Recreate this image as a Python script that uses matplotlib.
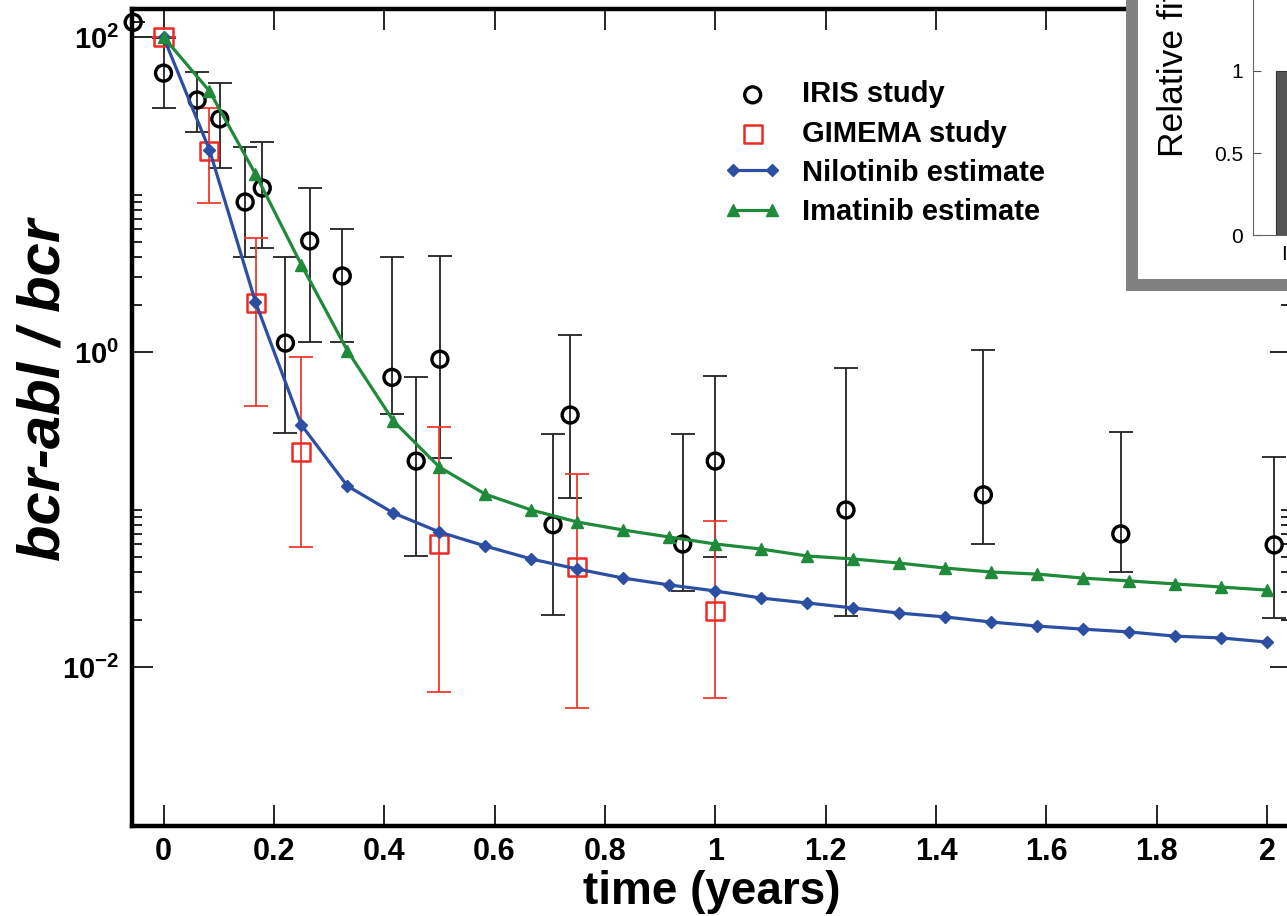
import numpy as np
import matplotlib
matplotlib.use("Agg")
import matplotlib.pyplot as plt
from matplotlib.patches import Rectangle
from matplotlib.ticker import FixedLocator, NullFormatter

plt.rcParams['font.family'] = ['Liberation Sans', 'DejaVu Sans']
plt.rcParams['mathtext.fontset'] = 'custom'
plt.rcParams['mathtext.rm'] = 'Liberation Sans'
plt.rcParams['mathtext.bf'] = 'Liberation Sans:bold'
plt.rcParams['mathtext.it'] = 'Liberation Sans:italic'

# --- IRIS study (black circles) ---
iris_t = [-0.055, 0.0, 0.061, 0.102, 0.148, 0.179, 0.221, 0.265, 0.324, 0.414,
          0.458, 0.501, 0.706, 0.737, 0.941, 1.0, 1.237, 1.486, 1.735, 2.013]
iris_val = [124, 59, 39.8, 30.2, 8.96, 11.0, 1.14, 5.07, 3.04, 0.69,
            0.203, 0.90, 0.080, 0.398, 0.0604, 0.203, 0.0993, 0.124, 0.070, 0.0596]
iris_lo = [124, 35.4, 25.0, 14.7, 4.0, 4.6, 0.306, 1.156, 1.156, 0.404,
           0.0507, 0.212, 0.0214, 0.118, 0.0304, 0.0499, 0.0211, 0.0604, 0.0401, 0.0205]
iris_hi = [124, 98, 60, 51, 20, 21.5, 4.0, 11.0, 6.04, 4.0,
           0.693, 4.07, 0.301, 1.28, 0.301, 0.705, 0.791, 1.03, 0.310, 0.215]

# --- GIMEMA study (red squares) ---
gim_t = [0.0, 0.083, 0.167, 0.25, 0.5, 0.75, 1.0]
gim_val = [100, 18.9, 2.05, 0.232, 0.060, 0.0431, 0.0227]
gim_lo = [100, 8.83, 0.454, 0.0578, 0.00693, 0.0055, 0.00635]
gim_hi = [100, 35.4, 5.30, 0.929, 0.334, 0.168, 0.0845]

# --- model estimates, one point per month ---
months = np.arange(25)
nilotinib = [100, 19.2, 2.08, 0.344, 0.141, 0.095, 0.072, 0.0586, 0.0485, 0.0419,
             0.0367, 0.0332, 0.0304, 0.0274, 0.0255, 0.0237, 0.0220, 0.0208, 0.0193,
             0.0182, 0.0174, 0.0167, 0.0157, 0.0153, 0.0144]
imatinib = [100, 45.4, 13.5, 3.57, 1.02, 0.365, 0.186, 0.125, 0.0993, 0.0833,
            0.0741, 0.0669, 0.0604, 0.0561, 0.0507, 0.0485, 0.0457, 0.0425, 0.0401,
            0.0389, 0.0367, 0.0352, 0.0337, 0.0322, 0.0308]

xtick_vals = [0, 0.2, 0.4, 0.6, 0.8, 1.0, 1.2, 1.4, 1.6, 1.8, 2.0]
xtick_labels = ['0', '0.2', '0.4', '0.6', '0.8', '1', '1.2', '1.4', '1.6', '1.8', '2']
ytick_vals = [1e-2, 1e0, 1e2]
ytick_labels = [r'$\mathbf{10^{-2}}$', r'$\mathbf{10^{0}}$', r'$\mathbf{10^{2}}$']

# inset (cropped in the original)
inset_labels = ['Imatinib']
inset_vals = [1.0]

W, H = 1287, 916
fig = plt.figure(figsize=(W / 100, H / 100), dpi=100)
ax = fig.add_axes([132 / W, 90 / H, 1159 / W, 817 / H])

blue = '#2c4fa3'
green = '#1f8a3a'
red = '#ee2a24'

iris_t = np.array(iris_t); iris_val = np.array(iris_val)
gim_t = np.array(gim_t); gim_val = np.array(gim_val)
ax.errorbar(iris_t, iris_val,
            yerr=[iris_val - np.array(iris_lo), np.array(iris_hi) - iris_val],
            fmt='none', ecolor='#222222', elinewidth=1.3, capsize=8.5, capthick=1.3, zorder=2)
ax.errorbar(gim_t, gim_val,
            yerr=[gim_val - np.array(gim_lo), np.array(gim_hi) - gim_val],
            fmt='none', ecolor='#f03a2c', elinewidth=1.3, capsize=8.5, capthick=1.3, zorder=2)

ax.scatter(iris_t, iris_val, s=11.5 ** 2, facecolors='none', edgecolors='black',
           linewidths=2.4, label='IRIS study', zorder=3, clip_on=False)
ax.scatter(gim_t, gim_val, s=13 ** 2, marker='s', facecolors='none', edgecolors=red,
           linewidths=1.8, label='GIMEMA study', zorder=3)

ax.plot(months / 12, nilotinib, color=blue, lw=2.3, marker='D', ms=6.5,
        label='Nilotinib estimate', zorder=4)
ax.plot(months / 12, imatinib, color=green, lw=2.3, marker='^', ms=8,
        label='Imatinib estimate', zorder=4)

ax.set_yscale('log')
ax.set_xlim(-0.0571, 2.0435)
ax.set_ylim(10 ** -3.0095, 10 ** 2.178)

ax.set_xticks(xtick_vals)
ax.set_xticklabels(xtick_labels, fontweight='bold')
ax.yaxis.set_major_locator(FixedLocator(ytick_vals))
ax.set_yticklabels(ytick_labels)
minor = [k * 10.0 ** e for e in (-2, 0) for k in range(2, 11)]
ax.yaxis.set_minor_locator(FixedLocator(minor))
ax.yaxis.set_minor_formatter(NullFormatter())

ax.tick_params(which='both', direction='in', top=True, right=True)
ax.tick_params(axis='x', labelsize=22, pad=8)
ax.tick_params(axis='y', labelsize=21, pad=9)
ax.tick_params(which='major', length=15, width=1.2)
ax.tick_params(which='minor', length=7, width=1.2)
for s in ax.spines.values():
    s.set_linewidth(3.2)

ax.set_xlabel('time (years)', fontsize=33, fontweight='bold', labelpad=2)
ax.set_ylabel('bcr-abl / bcr', fontsize=43, fontweight='bold', fontstyle='italic')
ax.yaxis.set_label_coords(-0.052, 0.534)

ax.legend(loc='upper left', bbox_to_anchor=(0.511, 0.9125), frameon=False,
          prop={'weight': 'bold', 'size': 21}, numpoints=2,
          scatterpoints=1, handlelength=1.95, handletextpad=0.7, labelspacing=0.38,
          borderpad=0, borderaxespad=0)

# --- inset panel (cut off at the right edge) ---
frame = Rectangle((1132 / W, 1 - 285 / H), 0.5, 0.5, transform=fig.transFigure,
                  facecolor='white', edgecolor='#808080', linewidth=8.6, zorder=10)
fig.add_artist(frame)

ins = fig.add_axes([1253 / W, 1 - 235 / H, 250 / W, 255 / H])
ins.set_zorder(11)
ins.set_facecolor('white')
ins.bar([0.65], inset_vals, width=0.84, color='#555555', edgecolor='#333333', linewidth=0.8)
ins.set_xlim(0, 2.5)
ins.set_ylim(0, 255 / 164)
ins.set_yticks([0, 0.5, 1])
ins.set_yticklabels(['0', '0.5', '1'], fontsize=15)
ins.set_xticks([0.65])
ins.set_xticklabels(inset_labels, fontsize=15)
ins.tick_params(direction='in', length=6, width=0.8, color='#555555', pad=7)
ins.tick_params(axis='x', length=0)
for s in ins.spines.values():
    s.set_color('#666666')
    s.set_linewidth(0.8)
fig.text(1190 / W, 1 - 157 / H, 'Relative fitness', rotation=90, fontsize=25.5,
         ha='right', va='bottom', zorder=12)

fig.savefig('out.png', dpi=100)
